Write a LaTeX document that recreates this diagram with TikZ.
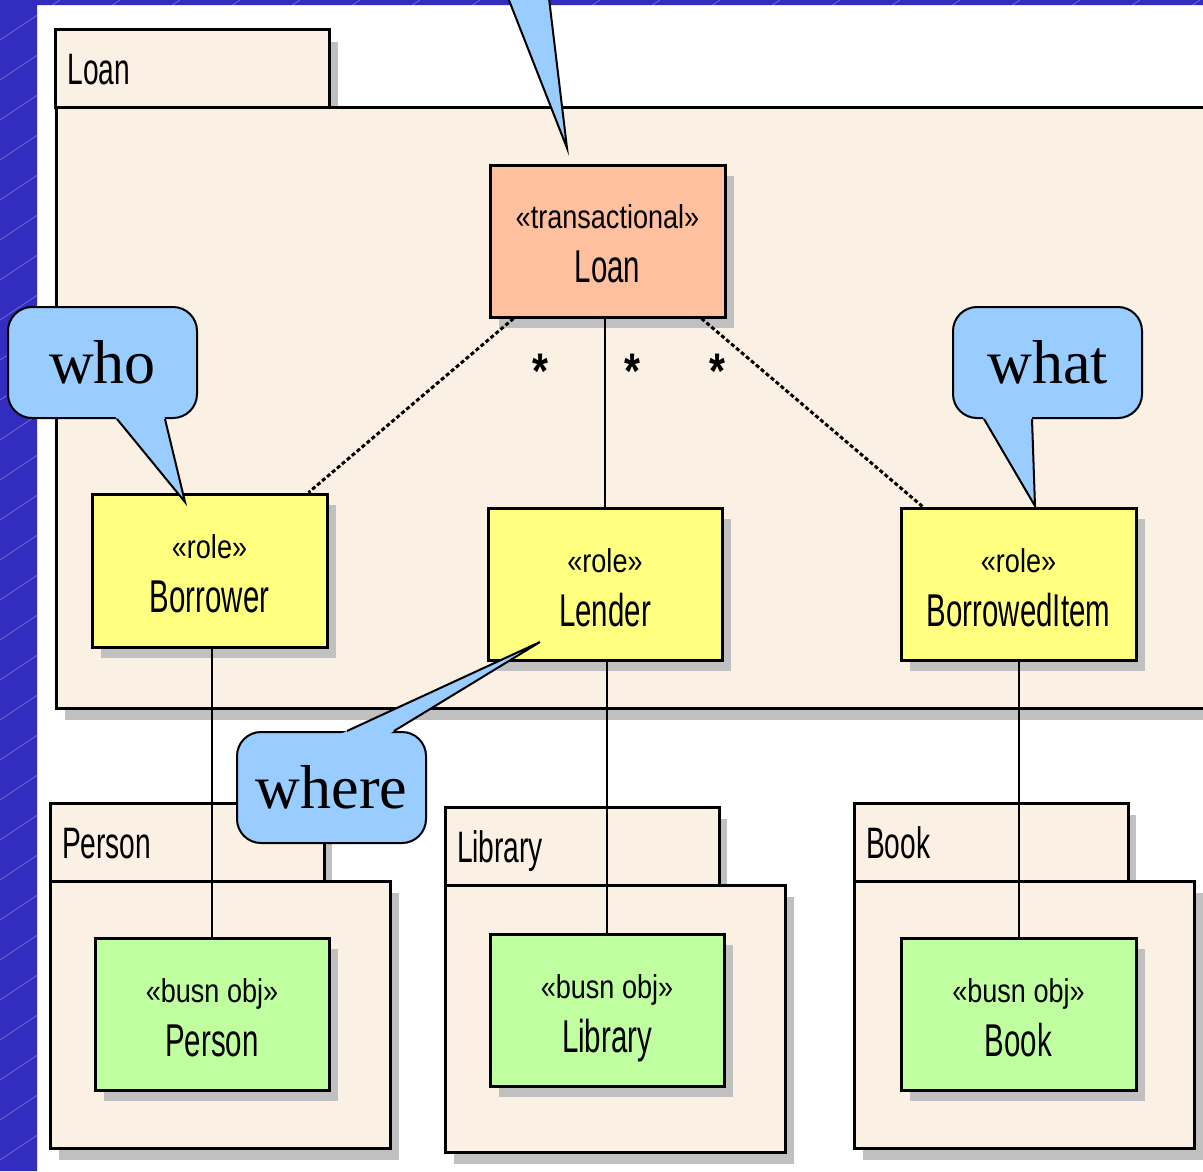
\documentclass[tikz,border=0pt]{standalone}
\usepackage{fontspec}
\usetikzlibrary{calc,shadows}
\setmainfont{Liberation Serif}
\newfontfamily\umlnamefont[FakeStretch=0.64]{Liberation Sans}
\newfontfamily\umlsterfont[FakeStretch=0.82]{Liberation Sans}
\definecolor{bandblue}{RGB}{50,45,190}
\definecolor{linen}{RGB}{250,240,228}
\definecolor{salmon}{RGB}{255,192,160}
\definecolor{roleyellow}{RGB}{255,255,128}
\definecolor{objgreen}{RGB}{192,255,160}
\definecolor{shadowgray}{RGB}{192,192,192}
\definecolor{calloutblue}{RGB}{153,204,255}
\begin{document}
\begin{tikzpicture}[x=1pt,y=-1pt,
  classbox/.style={draw=black, line width=3pt, minimum width=235pt, minimum height=152pt, inner sep=0pt},
  classshadow/.style={draw=none, fill=shadowgray, minimum width=235pt, minimum height=152pt, inner sep=0pt,
    xshift=9pt, yshift=-11pt},
  ster/.style={anchor=base, inner sep=0pt, font=\umlsterfont\fontsize{33}{36}\selectfont},
  nm/.style={anchor=base, inner sep=0pt, font=\umlnamefont\fontsize{46}{50}\selectfont},
  pkgtab/.style={draw=black, line width=3pt, fill=linen, minimum width=274pt, minimum height=78pt,
    text width=250pt, inner xsep=12pt, inner ysep=0pt, align=left, text height=32pt, text depth=0pt,
    font=\umlnamefont\fontsize{44}{48}\selectfont,
    drop shadow={shadow xshift=8pt, shadow yshift=-12pt, fill=shadowgray, opacity=1}},
  pkgbody/.style={draw=black, line width=3pt, fill=linen, inner sep=0pt,
    drop shadow={shadow xshift=9pt, shadow yshift=-12pt, fill=shadowgray, opacity=1}},
  assoc/.style={draw=black, line width=2pt},
  dotassoc/.style={draw=black, line width=3pt, dash pattern=on 4pt off 2.5pt},
  mult/.style={anchor=base, inner sep=0pt, font=\umlsterfont\bfseries\fontsize{50}{50}\selectfont},
  callout/.style={draw=black, line width=2pt, fill=calloutblue, rounded corners=24pt,
    minimum width=189pt, minimum height=111pt, inner sep=0pt, font=\fontsize{62}{66}\selectfont},
  pointerline/.style={draw=black, line width=2pt, line join=miter},
  bandline/.style={draw=white, opacity=0.3, line width=0.8pt}
]
\useasboundingbox (0,0) rectangle (1203,1171);
% background
\fill[white] (0,0) rectangle (1203,1171);
\fill[bandblue] (0,0) -- (1203,0) -- (1203,5) -- (37,5) -- (37,1171) -- (0,1171) -- cycle;
\begin{scope}
  \clip (0,0) -- (1203,0) -- (1203,5) -- (37,5) -- (37,1171) -- (0,1171) -- cycle;
  \foreach \k in {-1800,-1740,...,1260} {
    \draw[bandline] (\k,1200) -- ++(1800,-1200);
  }
\end{scope}

% packages
\node[pkgtab] (loanTab) at (192.5,68.5) {Loan};
\node[pkgbody, minimum width=1159pt, minimum height=601pt] (loanPkg) at (635.5,407.5) {};

\node[pkgtab] (personTab) at (187,842) {Person};
\node[pkgbody, minimum width=340pt, minimum height=267pt] (personPkg) at (220,1014.5) {};

\node[pkgtab] (libraryTab) at (582,846) {Library};
\node[pkgbody, minimum width=340pt, minimum height=267pt] (libraryPkg) at (615,1018.5) {};

\node[pkgtab] (bookTab) at (991,842) {Book};
\node[pkgbody, minimum width=340pt, minimum height=267pt] (bookPkg) at (1024,1014.5) {};

% class box positions
\path (607.5,241) coordinate (loanC)
      (209.5,570.5) coordinate (borrowerC)
      (605,584) coordinate (lenderC)
      (1018.5,584) coordinate (itemC)
      (212,1014) coordinate (personC)
      (607,1010) coordinate (libraryC)
      (1018.5,1014) coordinate (bookC);

% class shadows
\node[classshadow] (loanSh) at (loanC) {};
\node[classshadow, minimum height=153pt] (borrowerSh) at (borrowerC) {};
\node[classshadow, minimum width=234pt] (lenderSh) at (lenderC) {};
\node[classshadow] (itemSh) at (itemC) {};
\node[classshadow, minimum width=234pt] (personSh) at (personC) {};
\node[classshadow, minimum width=234pt] (librarySh) at (libraryC) {};
\node[classshadow] (bookSh) at (bookC) {};

% class boxes (geometry)
\node[classbox, fill=salmon] (loan) at (loanC) {};
\node[classbox, fill=roleyellow, minimum height=153pt] (borrower) at (borrowerC) {};
\node[classbox, fill=roleyellow, minimum width=234pt] (lender) at (lenderC) {};
\node[classbox, fill=roleyellow] (borrowedItem) at (itemC) {};
\node[classbox, fill=objgreen, minimum width=234pt] (personCls) at (personC) {};
\node[classbox, fill=objgreen, minimum width=234pt] (libraryCls) at (libraryC) {};
\node[classbox, fill=objgreen] (bookCls) at (bookC) {};

% connectors
\draw[dotassoc] ($(loan.south west)+(25,0)$) -- ($(borrower.north east)+(-20,0)$);
\draw[assoc] (lender.north |- loan.south) -- (lender.north);
\draw[dotassoc] ($(loan.south east)+(-25,0)$) -- ($(borrowedItem.north west)+(23,0)$);
\draw[assoc] (personCls.north |- borrower.south) -- (personCls.north);
\draw[assoc] (libraryCls.north |- lender.south) -- (libraryCls.north);
\draw[assoc] (bookCls.north |- borrowedItem.south) -- (bookCls.north);

\node[mult] (multBorrower) at (540,388) {*};
\node[mult] (multLender) at (632,388) {*};
\node[mult] (multItem) at (717,388) {*};

% class texts
\node[ster] (loanSt) at ($(loan.north)+(0,65)$) {«transactional»};
\node[nm] (loanNm) at ($(loan.north)+(0,119)$) {Loan};

\node[ster] (borrowerSt) at ($(borrower.north)+(0,66)$) {«role»};
\node[nm] (borrowerNm) at ($(borrower.north)+(0,120)$) {Borrower};

\node[ster] (lenderSt) at ($(lender.north)+(0,66)$) {«role»};
\node[nm] (lenderNm) at ($(lender.north)+(0,120)$) {Lender};

\node[ster] (itemSt) at ($(borrowedItem.north)+(0,66)$) {«role»};
\node[nm] (itemNm) at ($(borrowedItem.north)+(0,120)$) {BorrowedItem};

\node[ster] (personSt) at ($(personCls.north)+(0,66)$) {«busn obj»};
\node[nm] (personNm) at ($(personCls.north)+(0,120)$) {Person};

\node[ster] (librarySt) at ($(libraryCls.north)+(0,66)$) {«busn obj»};
\node[nm] (libraryNm) at ($(libraryCls.north)+(0,120)$) {Library};

\node[ster] (bookSt) at ($(bookCls.north)+(0,66)$) {«busn obj»};
\node[nm] (bookNm) at ($(bookCls.north)+(0,120)$) {Book};

% callouts
\node[callout] (who) at (102.5,362.5) {who};
\coordinate (whoA) at ($(who.south west)+(110,0)$);
\coordinate (whoB) at ($(who.south west)+(158,0)$);
\coordinate (whoTip) at (185,502);
\fill[calloutblue] ($(whoTip)!1.06!(whoA)$) -- (whoTip) -- ($(whoTip)!1.06!(whoB)$) -- cycle;
\draw[pointerline] (whoA) -- (whoTip) -- (whoB);

\node[callout] (what) at (1047.5,362.5) {what};
\coordinate (whatA) at ($(what.south west)+(32,0)$);
\coordinate (whatB) at ($(what.south west)+(80,0)$);
\coordinate (whatTip) at (1035,506);
\fill[calloutblue] ($(whatTip)!1.06!(whatA)$) -- (whatTip) -- ($(whatTip)!1.06!(whatB)$) -- cycle;
\draw[pointerline] (whatA) -- (whatTip) -- (whatB);

\node[callout] (where) at (331.5,787.5) {where};
\coordinate (whereA) at ($(where.north west)+(111,0)$);
\coordinate (whereB) at ($(where.north west)+(158,0)$);
\coordinate (whereTip) at (540,642);
\fill[calloutblue] ($(whereTip)!1.06!(whereA)$) -- (whereTip) -- ($(whereTip)!1.06!(whereB)$) -- cycle;
\draw[pointerline] (whereA) -- (whereTip) -- (whereB);

\coordinate (topTip) at (567,148);
\draw[pointerline, fill=calloutblue] (505,-10) -- (topTip) -- (548,-10) -- cycle;
\end{tikzpicture}
\end{document}
